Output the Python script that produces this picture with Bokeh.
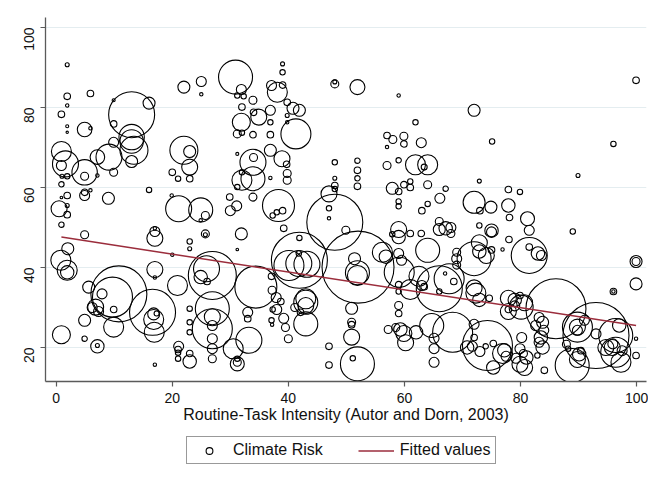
import math
import numpy as np
from bokeh.plotting import figure
from bokeh.layouts import column
from bokeh.models import Range1d, FixedTicker, Legend, LegendItem
from bokeh.embed import file_html
from bokeh.resources import INLINE

# ---- Data: Routine-Task Intensity (x), Climate Risk (y), employment weight ----
# region 1 (RTI 0-18)
rti_1 = [1.9,1.9,5.9,1.9,0.9,1.9,1.9,4.9,5.9,13.0,
         16.0,9.9,9.9,13.0,13.0,13.4,13.0,9.9,0.9,1.6,
         0.9,7.1,4.9,9.1,9.9,4.9,1.9,1.0,0.9,7.1,
         5.9,4.9,4.9,9.0,16.0,1.9,0.5,1.9,1.9,0.9,
         0.9,4.9,17.0,17.0,17.0,2.0,0.8,1.9,1.9,17.0,
         17.0,5.6,10.8,9.7,7.9,6.8,6.2,7.3,9.9,16.6,
         16.8,16.8,4.9,9.9,0.9,4.9,7.1,7.1,17.0,16.9,
         17.3]
risk_1 = [90.7,82.8,83.5,80.5,78.3,75.3,73.8,74.5,74.8,78.2,
          81.1,81.8,75.9,72.6,71.5,69.3,66.5,71.3,69.0,65.9,
          65.5,67.6,63.8,67.6,63.8,62.8,62.8,62.8,60.8,63.0,
          59.3,58.0,58.8,57.3,59.4,58.0,54.7,55.5,53.2,57.5,
          50.7,48.2,49.0,47.3,49.8,44.7,41.8,39.3,38.8,39.5,
          37.5,35.1,33.4,32.6,33.4,30.1,30.0,29.0,29.5,28.8,
          28.4,27.0,26.8,25.1,23.2,22.2,20.3,20.5,15.7,23.8,
          28.5]
emp_1 = [4,10.9,10.9,2.9,10.9,2.3,1.4,53.3,2.9,529,
         36,2.3,10.9,161,137,196,36,25,100,169,
         25,53.3,161,169,16,16,7.3,4,7.3,2.9,
         2.9,25,10.9,36,7.3,10.9,64,4,10.9,1.7,
         7.3,16,25,64,2.9,36,100,100,44.9,64,
         2.9,36,784,400,25,64,25,25,10.9,529,
         36,100,36,100,81,7.3,44.9,4,2.9,100,
         6.3]

# region 2 (RTI 19-40)
rti_2 = [30.9,22.0,25.0,25.0,31.9,31.2,32.3,33.9,39.0,39.0,
         38.1,37.1,39.0,32.0,31.9,34.9,36.9,36.9,34.0,31.2,
         32.0,33.9,36.9,36.9,38.9,39.7,31.2,33.9,34.0,33.9,
         32.0,32.0,31.2,36.9,22.0,23.0,23.0,20.0,21.0,23.0,
         19.9,21.1,24.9,25.7,24.9,25.7,25.7,23.0,23.0,29.9,
         31.1,30.0,31.9,31.2,33.9,37.3,38.0,38.3,39.0,39.2,
         20.0,26.9,25.9,24.9,26.0,34.4,37.1,37.2,37.9,38.7,
         37.3,20.9,26.9,26.9,26.9,26.9,26.9,26.9,26.9,23.0,
         23.0,23.0,21.1,21.0,21.0,21.0,23.0,23.0,33.2,31.2,
         31.2,31.2,30.5,33.0,33.0,37.1,38.0,39.2,39.5,40.0,
         37.2]
risk_2 = [87.6,85.1,86.5,83.3,84.5,83.0,82.8,81.8,90.9,88.8,
          83.8,85.5,85.6,80.1,76.3,77.6,79.3,76.3,78.8,73.4,
          73.7,73.2,73.2,69.3,67.2,65.8,68.4,66.3,67.5,62.2,
          61.8,63.8,60.1,62.4,69.3,69.0,65.1,63.8,62.2,62.2,
          58.0,54.7,54.4,53.0,51.8,48.4,48.2,46.5,44.7,57.6,
          55.4,54.2,48.4,44.5,57.6,53.0,53.8,55.5,54.2,49.8,
          43.2,38.0,39.7,37.6,36.5,35.1,37.8,34.3,32.5,31.5,
          29.5,35.5,29.7,24.7,27.7,25.5,22.2,19.7,17.2,29.7,
          26.3,23.8,20.3,19.5,18.7,17.2,18.5,16.5,21.8,15.9,
          16.3,17.2,19.7,28.8,27.2,26.8,29.5,27.3,25.0,22.2,
          25.7]
emp_2 = [289,36,25,2.9,25,7.3,7.3,16,4,7.3,
         100,25,10.9,10.9,81,64,25,7.3,10.9,16,
         7.3,10.9,10.9,36,64,10.9,2.3,169,16,144,
         100,7.3,7.3,2.9,196,36,64,10.9,7.3,10.9,
         2.9,169,144,16,2.9,16,4,7.3,4,10.9,
         25,25,36,1.7,16,7.3,7.3,256,10.9,10.9,
         2.9,576,169,44.9,10.9,441,10.9,16,25,10.9,
         7.3,100,289,400,64,25,25,25,16,7.3,
         7.3,7.3,25,10.9,7.3,7.3,10.9,44.9,169,49,
         16,7.3,100,25,10.9,7.3,25,25,16,16,
         2.9]

# region 3 (RTI 40-60)
rti_3 = [48.0,48.0,51.9,59.0,39.8,40.8,41.9,39.8,41.3,39.8,
         39.8,39.8,48.0,51.9,51.9,51.9,51.9,48.0,48.0,48.0,
         47.0,47.0,47.0,48.0,49.9,57.0,58.0,59.9,59.9,57.0,
         57.0,59.0,57.9,59.9,59.0,59.0,59.0,57.9,59.0,59.0,
         41.9,41.9,41.8,41.8,40.1,43.2,52.0,51.4,51.9,51.9,
         43.0,43.0,43.0,41.1,42.1,43.0,50.9,50.9,50.9,50.9,
         51.9,51.1,47.0,47.0,56.2,56.8,59.0,59.5,59.1,59.0,
         59.0,59.0,59.0,58.5,59.3,57.2,59.9,60.2]
risk_3 = [85.9,86.4,85.1,83.0,81.3,79.8,79.3,78.0,73.4,76.3,
          63.5,61.8,66.3,66.7,64.3,62.3,60.3,62.3,60.5,59.6,
          58.4,54.8,52.3,51.3,49.3,73.0,72.0,72.8,70.9,70.1,
          65.5,66.8,59.8,60.7,59.0,56.5,55.3,48.3,49.5,47.6,
          47.4,41.8,41.0,43.5,40.5,40.8,40.1,42.2,38.7,38.0,
          31.3,30.5,32.2,30.0,28.8,25.9,29.8,26.3,25.7,22.6,
          15.9,17.3,20.3,15.6,43.8,42.7,43.5,41.8,38.8,35.7,
          34.0,30.5,28.5,25.0,24.5,24.5,23.5,21.2]
emp_3 = [16,4,56.3,2.9,10.9,36,36,4,225,2.9,
         16,16,7.3,7.3,10.9,7.3,10.9,4,10.9,7.3,
         64,7.3,2.9,784,16,10.9,16,16,10.9,2.9,
         16,7.3,36,10.9,10.9,7.3,7.3,7.3,64,44.9,
         7.3,784,169,7.3,225,169,1296,36,144,100,
         144,64,100,16,10.9,144,36,16,10.9,64,
         289,7.3,10.9,10.9,100,44.9,25,25,225,10.9,
         7.3,16,10.9,16,44.9,16,64,64]

# region 4 (RTI 61-84)
rti_4 = [72.0,61.9,62.9,75.1,61.9,64.0,63.4,64.0,67.1,66.1,
         64.0,63.0,72.9,72.0,74.9,73.0,77.9,79.9,77.9,78.1,
         61.0,61.0,66.0,66.0,67.1,68.0,68.0,62.9,61.0,75.0,
         75.0,72.9,72.9,72.9,74.1,75.0,78.0,76.9,64.0,69.0,
         69.0,69.0,72.0,81.5,83.0,83.6,66.0,67.7,68.5,67.0,
         62.5,63.0,63.4,61.0,66.0,72.0,72.3,72.9,74.6,77.9,
         79.0,77.9,79.0,79.9,80.7,77.9,64.7,65.1,65.1,65.1,
         62.0,68.3,74.3,72.0,72.0,70.8,71.7,73.0,75.3,74.0,
         76.9,77.2,77.5,75.3,80.2,79.9,80.5,79.2,79.9,80.7,
         80.1,81.2,81.5,81.5]
risk_4 = [79.3,76.3,71.2,71.5,65.7,65.7,65.1,60.7,59.7,57.3,
          55.9,54.2,61.6,56.3,55.1,54.2,59.5,58.9,55.5,52.5,
          60.0,61.5,51.5,49.5,49.8,50.0,48.5,48.5,48.5,48.9,
          49.2,50.5,46.2,44.0,43.0,44.4,47.0,44.5,44.3,43.8,
          42.2,40.6,42.2,43.0,43.5,43.0,34.7,37.2,36.5,38.5,
          37.8,35.5,35.2,34.5,34.0,34.9,33.6,31.9,32.3,32.3,
          31.9,29.0,30.4,33.0,31.2,29.5,25.5,22.3,19.7,16.3,
          23.8,23.8,20.5,25.8,22.5,20.0,20.3,19.0,21.0,20.3,
          18.5,19.3,17.8,15.0,22.5,19.7,18.5,17.3,15.8,15.0,
          30.1,52.2,49.3,45.1]
emp_4 = [36,7.3,25,7.3,100,100,9,16,7.3,25,
         7.3,10.9,4,121,36,10.9,10.9,7.3,44.9,10.9,
         10.9,7.3,16,36,44.9,25,16,10.9,10.9,25,
         44.9,7.3,64,44.9,64,10.9,10.9,2.9,144,16,
         25,16,289,324,44.9,25,529,225,10.9,2.9,
         100,25,10.9,100,7.3,64,100,44.9,10.9,64,
         44.9,64,25,10.9,64,10.9,144,25,25,25,
         44.9,400,625,25,10.9,44.9,25,25,10.9,7.3,
         100,44.9,25,44.9,25,25,16,25,64,64,
         144,49,25,10.9]

# region 5 (RTI 81-100)
rti_5 = [99.9,96.0,89.9,89.0,99.9,99.9,99.9,96.0,96.0,86.1,
         89.8,89.8,89.8,93.0,96.4,96.4,97.0,99.9,99.9,88.9,
         89.8,90.1,90.4,87.9,88.2,83.2,83.8,82.6,84.0,83.5,
         83.2,83.8,82.9,84.1,94.7,95.8,97.5,81.0,93.0,91.0,
         97.3,95.9]
risk_5 = [86.8,70.9,63.0,49.0,41.5,41.5,35.9,34.0,34.0,29.7,
          25.1,25.1,24.3,23.0,23.0,18.8,25.5,22.2,18.0,15.5,
          17.0,18.3,19.2,20.8,19.7,27.5,26.3,25.5,24.3,22.5,
          21.3,20.0,18.0,14.3,20.0,20.0,19.2,17.5,23.4,26.8,
          16.3,20.9]
emp_5 = [10.9,7.3,4,7.3,36,16,36,10.9,2.9,900,
         225,64,25,1089,289,225,44.9,2.9,10.9,289,
         64,44.9,10.9,16,7.3,25,36,25,25,44.9,
         25,44.9,7.3,10.9,64,64,25,44.9,25,25,
         100,25]

# Fitted values (linear fit endpoints)
fit_rti = [0.9, 99.9]
fit_risk = [47.6, 25.5]

x_ticks = [0, 20, 40, 60, 80, 100]
y_ticks = [20, 40, 60, 80, 100]
series_labels = ["Climate Risk", "Fitted values"]

rti = rti_1 + rti_2 + rti_3 + rti_4 + rti_5
risk = risk_1 + risk_2 + risk_3 + risk_4 + risk_5
emp = emp_1 + emp_2 + emp_3 + emp_4 + emp_5
n = min(len(rti), len(risk), len(emp))
rti, risk, emp = rti[:n], risk[:n], emp[:n]
sizes = list(2.0 * np.sqrt(np.array(emp, dtype=float)))

FONT = "Liberation Sans"
FIT_COLOR = "#9b2d3c"

p = figure(frame_width=601, frame_height=364, output_backend="svg",
           toolbar_location=None,
           x_range=Range1d(-1.84, 101.7), y_range=Range1d(11.5, 102.5),
           min_border_left=45, min_border_right=2, min_border_top=17,
           min_border_bottom=48)
p.background_fill_color = "white"
p.border_fill_color = "white"
p.outline_line_color = None

sc = p.scatter(rti, risk, size=sizes, marker="circle", fill_color=None,
               line_color="black", line_width=1.1)
ln = p.line(fit_rti, fit_risk, line_color=FIT_COLOR, line_width=1.5)

p.xgrid.visible = False
p.ygrid.ticker = FixedTicker(ticks=y_ticks)
p.ygrid.grid_line_color = "#e4edf0"
p.ygrid.grid_line_width = 1

for ax in (p.xaxis[0], p.yaxis[0]):
    ax.axis_line_color = "#5a5a5a"
    ax.axis_line_width = 1.3
    ax.major_tick_line_color = "#5a5a5a"
    ax.major_tick_line_width = 1.2
    ax.major_tick_out = 5
    ax.major_tick_in = 0
    ax.minor_tick_line_color = None
    ax.major_label_text_font = FONT
    ax.major_label_text_font_size = "14px"
    ax.major_label_text_color = "#111111"

p.xaxis.ticker = FixedTicker(ticks=x_ticks)
p.yaxis.ticker = FixedTicker(ticks=y_ticks)
p.yaxis.major_label_orientation = math.pi / 2
p.xaxis.major_label_standoff = 6
p.yaxis.major_label_standoff = 12
p.xaxis.axis_label = "Routine-Task Intensity (Autor and Dorn, 2003)"
p.xaxis.axis_label_text_font = FONT
p.xaxis.axis_label_text_font_size = "16px"
p.xaxis.axis_label_text_font_style = "normal"
p.xaxis.axis_label_text_color = "#111111"
p.xaxis.axis_label_standoff = 0

# ---- legend strip below the plot (keys drawn outside its view) ----
lp = figure(frame_width=601, frame_height=42, output_backend="svg",
            toolbar_location=None,
            x_range=Range1d(0, 1), y_range=Range1d(0, 1),
            min_border_left=45, min_border_right=2, min_border_top=0,
            min_border_bottom=0, x_axis_type=None, y_axis_type=None)
lp.background_fill_color = "white"
lp.border_fill_color = "white"
lp.outline_line_color = None
lp.grid.visible = False
key_sc = lp.scatter(rti, risk, marker="circle", size=7, fill_color=None,
                    line_color="black", line_width=1.1)
key_ln = lp.line(fit_rti, fit_risk, line_color=FIT_COLOR, line_width=1.5)

legend = Legend(items=[LegendItem(label=series_labels[0], renderers=[key_sc]),
                       LegendItem(label=series_labels[1], renderers=[key_ln])],
                orientation="horizontal", location=(141, 7),
                glyph_width=36, glyph_height=17, label_height=17,
                label_standoff=6, spacing=35, padding=4, margin=0,
                label_text_font=FONT, label_text_font_size="16px",
                label_text_color="#111111",
                border_line_color="#333333", border_line_width=1,
                background_fill_color="white", background_fill_alpha=1.0)
lp.add_layout(legend, "center")

open("out.html", "w").write(file_html(column(p, lp), INLINE))
